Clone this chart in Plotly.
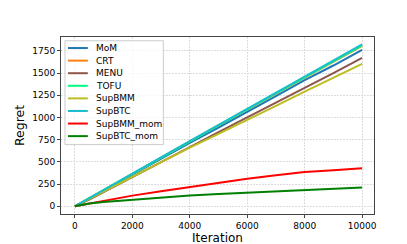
import plotly.graph_objects as go

iters = [0, 500, 1000, 2000, 3000, 4000, 5000, 6000, 7000, 8000, 9000, 10000]
names = ["MoM", "CRT", "MENU", "TOFU", "SupBMM", "SupBTC", "SupBMM_mom", "SupBTC_mom"]
colors = ["#1f77b4", "#ff7f0e", "#8c564b", "#00ff7f", "#bcbd22", "#17becf", "#ff0000", "#008000"]
mom = [0, 90, 180, 360, 540, 715, 885, 1060, 1240, 1420, 1585, 1760]
crt = [0, 92, 183, 365, 548, 730, 910, 1090, 1270, 1450, 1625, 1805]
menu = [0, 75, 160, 330, 500, 670, 835, 1000, 1165, 1335, 1500, 1670]
tofu = [0, 92, 184, 366, 549, 731, 912, 1092, 1273, 1453, 1632, 1812]
supbmm = [0, 85, 165, 330, 495, 660, 815, 970, 1130, 1290, 1445, 1603]
supbtc = [0, 93, 186, 368, 551, 734, 915, 1096, 1277, 1458, 1638, 1822]
supbmm_mom = [0, 30, 60, 120, 170, 217, 265, 310, 350, 385, 405, 427]
supbtc_mom = [0, 30, 48, 75, 100, 121, 137, 150, 163, 178, 195, 210]
series = [mom, crt, menu, tofu, supbmm, supbtc, supbmm_mom, supbtc_mom]
xticks = [0, 2000, 4000, 6000, 8000, 10000]
yticks = [0, 250, 500, 750, 1000, 1250, 1500, 1750]

W, H = 407, 244
L, R, T, B = 51, 41, 29, 27.5
PW, PH = W - L - R, H - T - B

def px(x):
    return (x - L) / PW

def py(y):
    return (H - B - y) / PH

FONT = "DejaVu Sans"
fig = go.Figure()
for n, c, s in zip(names, colors, series):
    fig.add_trace(go.Scatter(x=iters, y=s, name=n, mode="lines",
                             line=dict(color=c, width=2), showlegend=False))

axis_common = dict(showline=True, linecolor="#444444", linewidth=1, mirror=True,
                   showgrid=True, gridcolor="#dcdcdc", griddash="2px,1px", gridwidth=1,
                   zeroline=False, ticks="outside", ticklen=3, tickcolor="#444444",
                   tickfont=dict(family=FONT, size=9, color="black"))
fig.update_xaxes(range=[-484, 10415], tickvals=xticks, ticktext=[str(v) for v in xticks],
                 title=dict(text="Iteration", font=dict(family=FONT, size=12, color="black"), standoff=1),
                 **axis_common)
fig.update_yaxes(range=[-87, 1906], tickvals=yticks, ticktext=[str(v) for v in yticks],
                 title=dict(text="Regret", font=dict(family=FONT, size=12.5, color="black"), standoff=4),
                 **axis_common)

# legend drawn as shapes + text in paper coordinates
shapes = [dict(type="rect", xref="paper", yref="paper", layer="above",
               x0=px(55), x1=px(154), y0=py(143), y1=py(33),
               fillcolor="rgba(255,255,255,0.8)", line=dict(color="#cccccc", width=1))]
annotations = []
row0, gap = 40.7, 13.33
for i, (n, c) in enumerate(zip(names, colors)):
    yy = row0 + i * gap
    shapes.append(dict(type="line", xref="paper", yref="paper", layer="above",
                       x0=px(58), x1=px(78), y0=py(yy), y1=py(yy),
                       line=dict(color=c, width=2)))
    annotations.append(dict(xref="paper", yref="paper", x=px(84), y=py(yy),
                            xanchor="left", yanchor="middle", text=n, showarrow=False,
                            font=dict(family=FONT, size=9, color="black")))

fig.update_layout(width=W, height=H, margin=dict(l=L, r=R, t=T, b=B),
                  plot_bgcolor="white", paper_bgcolor="white",
                  shapes=shapes, annotations=annotations)
fig.write_html("out.html")
